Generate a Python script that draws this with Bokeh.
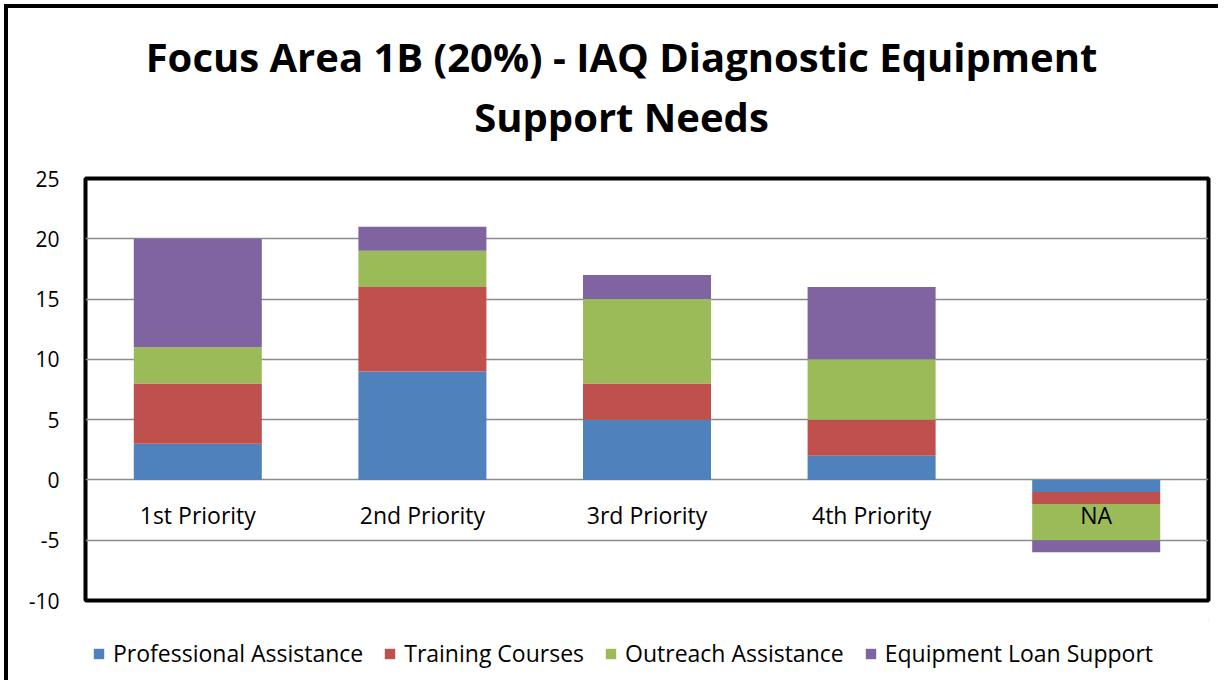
from bokeh.plotting import figure
from bokeh.layouts import column
from bokeh.models import Range1d, Legend, LegendItem, FixedTicker, ColumnDataSource, PrintfTickFormatter
from bokeh.core.properties import value
from bokeh.embed import file_html
from bokeh.resources import INLINE

categories = ["1st Priority", "2nd Priority", "3rd Priority", "4th Priority", "NA"]
series_names = ["Professional Assistance", "Training Courses", "Outreach Assistance", "Equipment Loan Support"]
professional = [3, 9, 5, 2, -1]
training = [5, 7, 3, 3, -1]
outreach = [3, 3, 7, 5, -3]
equipment = [9, 2, 2, 6, -1]
colors = ["#4F81BD", "#C0504D", "#9BBB59", "#8064A2"]
y_ticks = [-10, -5, 0, 5, 10, 15, 20, 25]
title_lines = ["Focus Area 1B (20%) - IAQ Diagnostic Equipment", "Support Needs"]

FONT = "Open Sans"
FRAME_W = 1123

# ---- title strip (pixel-scaled figure; its frame aligns with the chart frame) ----
tfig = figure(width=1210, height=150, x_range=Range1d(0, FRAME_W), y_range=Range1d(0, 150),
              output_backend="svg", toolbar_location=None,
              min_border=0, x_axis_location=None, y_axis_location=None)
tfig.grid.visible = False
tfig.outline_line_color = None
tfig.text(x=[536, 536], y=[102, 42], text=title_lines,
          text_font=value(FONT), text_font_size="40px", text_font_style="bold",
          text_align="center", text_baseline="middle", text_color="black")

# ---- main chart ----
source = ColumnDataSource(data=dict(
    cat=categories,
    professional=professional,
    training=training,
    outreach=outreach,
    equipment=equipment,
    zero=[0] * len(categories),
))

p = figure(
    x_range=categories,
    y_range=Range1d(-10, 25),
    frame_width=FRAME_W, frame_height=422,
    output_backend="svg", toolbar_location=None,
    x_axis_location=None,
    min_border_left=77, min_border_right=10,
    min_border_top=20, min_border_bottom=20,
)

p.vbar_stack(
    ["professional", "training", "outreach", "equipment"],
    x="cat", width=0.57, color=colors, source=source,
    line_color=None,
)

p.text(x="cat", y="zero", text="cat", source=source,
       text_font=value(FONT), text_font_size="23px",
       text_align="center", text_baseline="middle", y_offset=35,
       text_color="black")

p.yaxis.ticker = FixedTicker(ticks=y_ticks)
p.yaxis.formatter = PrintfTickFormatter(format="%d")
p.yaxis.axis_line_color = None
p.yaxis.major_tick_line_color = None
p.yaxis.minor_tick_line_color = None
p.yaxis.major_label_text_font = FONT
p.yaxis.major_label_text_font_size = "21px"
p.yaxis.major_label_text_color = "black"
p.yaxis.major_label_standoff = 20

p.xgrid.grid_line_color = None
p.ygrid.grid_line_color = "#8C8C8C"
p.ygrid.grid_line_width = 1.5

p.outline_line_color = "black"
p.outline_line_width = 4
p.outline_line_alpha = 1

# ---- legend strip ----
lfig = figure(width=1210, height=60, x_range=Range1d(0, 1), y_range=Range1d(0, 1),
              output_backend="svg", toolbar_location=None,
              min_border=0, x_axis_location=None, y_axis_location=None)
lfig.grid.visible = False
lfig.outline_line_color = None
# swatch renderers kept outside the visible range; only their legend glyphs show
swatches = [lfig.vbar(x=[5], top=[5], bottom=[5], width=0.1, color=c, line_color=None)
            for c in colors]
legend = Legend(
    items=[LegendItem(label=n, renderers=[r]) for n, r in zip(series_names, swatches)],
    orientation="horizontal",
    location=(7, 11),
    label_text_font=FONT, label_text_font_size="23px", label_text_color="black",
    glyph_width=13, glyph_height=13, label_standoff=8, spacing=20,
    padding=0, margin=0, border_line_color=None, background_fill_alpha=0,
)
lfig.add_layout(legend)

layout = column(tfig, p, lfig, spacing=0)
layout.styles = {"border-left": "4px solid black", "border-top": "4px solid black",
                 "margin-left": "4px", "margin-top": "4px"}

open("out.html", "w").write(file_html(layout, INLINE))
